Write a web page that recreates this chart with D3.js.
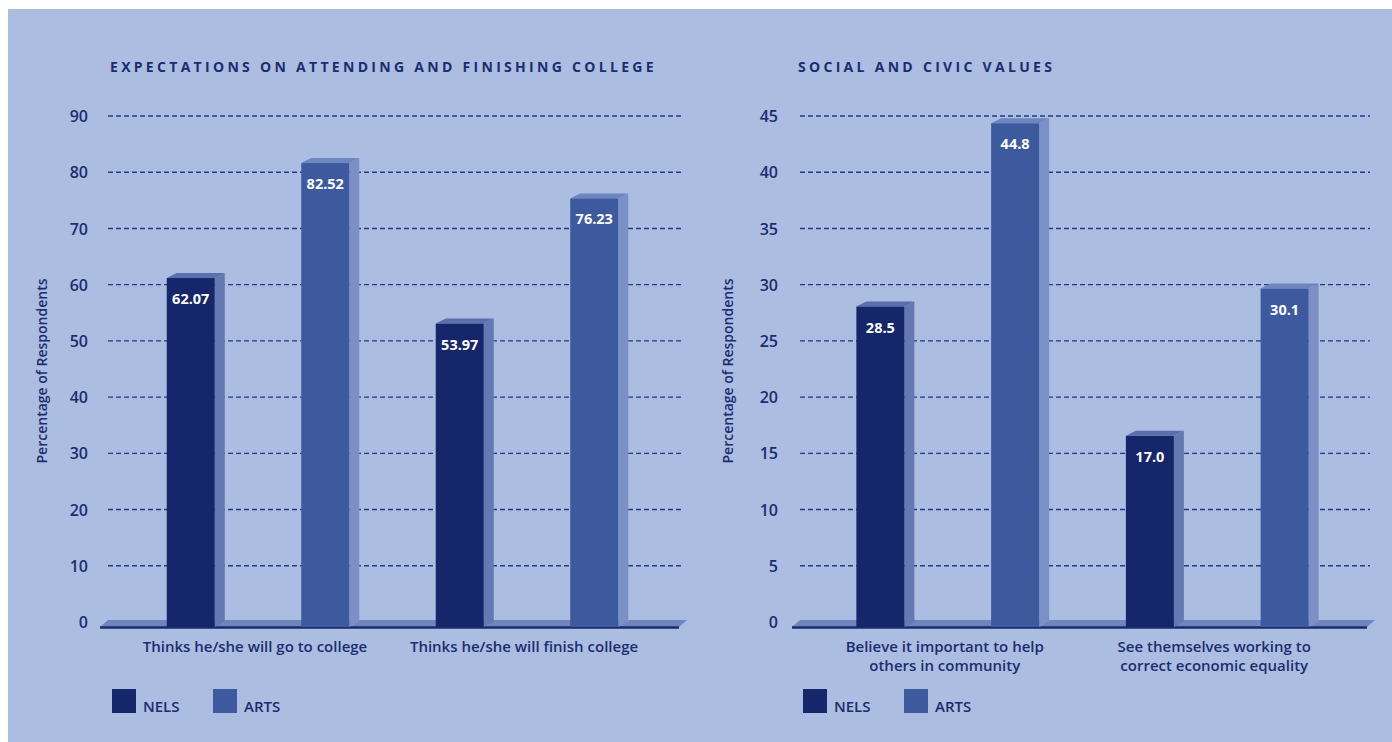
<!DOCTYPE html>
<html><head><meta charset="utf-8">
<script src="https://cdn.jsdelivr.net/npm/d3@7/dist/d3.min.js"></script>
<style>
html,body{margin:0;padding:0;background:#fff;}
svg{display:block;}
text{font-family:"Open Sans","Lato",sans-serif;}
</style></head>
<body>
<script>
// ---------- data ----------
const series = ["NELS", "ARTS"];
const leftTitle = "EXPECTATIONS ON ATTENDING AND FINISHING COLLEGE";
const leftCategories = [["Thinks he/she will go to college"], ["Thinks he/she will finish college"]];
const leftNELS = [62.07, 53.97];
const leftARTS = [82.52, 76.23];
const leftLabels = [["62.07", "82.52"], ["53.97", "76.23"]];
const leftTicks = [0, 10, 20, 30, 40, 50, 60, 70, 80, 90];

const rightTitle = "SOCIAL AND CIVIC VALUES";
const rightCategories = [["Believe it important to help", "others in community"], ["See themselves working to", "correct economic equality"]];
const rightNELS = [28.5, 17.0];
const rightARTS = [44.8, 30.1];
const rightLabels = [["28.5", "44.8"], ["17.0", "30.1"]];
const rightTicks = [0, 5, 10, 15, 20, 25, 30, 35, 40, 45];

const yTitle = "Percentage of Respondents";

// ---------- styles ----------
const W = 1392, H = 742;
const BG = "#abbde0";
const TXT = "#1b2d70";
const GRID = "#22398a";
const colors = {
  NELS: {front: "#15266b", side: "#6578b2", top: "#5a6fab"},
  ARTS: {front: "#3e5a9f", side: "#7b90c6", top: "#6e86bf"}
};
const DX = 10, DY = 5, SHIFT = 5, BW = 48;

const svg = d3.select("body").append("svg").attr("width", W).attr("height", H);
svg.append("rect").attr("x", 8).attr("y", 9).attr("width", W - 8).attr("height", H - 9).attr("fill", BG);

function drawChart(opt) {
  const g = svg.append("g");
  const y = d3.scaleLinear().domain([0, opt.max]).range([622, 116]);
  const x0 = d3.scaleBand().domain(d3.range(opt.cats.length)).range(opt.bandRange).padding(0);
  const x1 = d3.scalePoint().domain(series).range([0, x0.bandwidth()]).padding(0.5);

  // title
  g.append("text").attr("x", opt.titleX).attr("y", 72).text(opt.title)
    .attr("fill", TXT).attr("font-size", 14).attr("font-weight", 700)
    .attr("letter-spacing", 3.3);

  // y-axis title
  g.append("text").attr("transform", `translate(${opt.yTitleX},371) rotate(-90)`)
    .attr("text-anchor", "middle").text(yTitle)
    .attr("fill", TXT).attr("font-size", 14).attr("font-weight", 600);

  // gridlines + tick labels via axis
  const axis = d3.axisLeft(y).tickValues(opt.ticks).tickSize(0).tickPadding(0);
  const ag = g.append("g").attr("transform", `translate(${opt.tickX},0)`).call(axis);
  ag.select(".domain").remove();
  ag.selectAll("text").attr("fill", TXT).attr("font-size", 16).attr("font-weight", 600)
    .attr("font-family", '"Open Sans",sans-serif').attr("dy", "0.35em");

  g.append("g").selectAll("line").data(opt.ticks.filter(d => d > 0)).join("line")
    .attr("x1", opt.gridX[0]).attr("x2", opt.gridX[1])
    .attr("y1", d => y(d)).attr("y2", d => y(d))
    .attr("stroke", GRID).attr("stroke-width", 1.4).attr("stroke-dasharray", "5,3");

  // floor
  const y0 = y(0);
  const gx0 = opt.gridX[0], gx1 = opt.gridX[1];
  g.append("path").attr("d", `M${gx0},${y0 - 2}L${gx1 + 5},${y0 - 2}L${gx1 - 3},${y0 + SHIFT}L${gx0 - 8},${y0 + SHIFT}Z`)
    .attr("fill", "#6f86bd");
  g.append("line").attr("x1", gx0 - 8).attr("x2", gx1 - 3).attr("y1", y0 + SHIFT + 0.5).attr("y2", y0 + SHIFT + 0.5)
    .attr("stroke", "#1a2c70").attr("stroke-width", 2.5);

  // bars
  const rows = [];
  opt.cats.forEach((c, i) => {
    series.forEach((s, j) => rows.push({i, s, v: opt.vals[s][i], label: opt.labels[i][j]}));
  });
  const bars = g.append("g").selectAll("g").data(rows).join("g");
  bars.each(function (d) {
    const b = d3.select(this);
    const x = x0(d.i) + x1(d.s) - BW / 2;
    const top = y(d.v) + SHIFT, bot = y0 + SHIFT;
    const c = colors[d.s];
    b.append("path").attr("d", `M${x + BW},${top}L${x + BW + DX},${top - DY}L${x + BW + DX},${bot - DY}L${x + BW},${bot}Z`).attr("fill", c.side);
    b.append("path").attr("d", `M${x},${top}L${x + DX},${top - DY}L${x + BW + DX},${top - DY}L${x + BW},${top}Z`).attr("fill", c.top);
    b.append("rect").attr("x", x).attr("y", top).attr("width", BW).attr("height", bot - top).attr("fill", c.front);
    b.append("text").attr("x", x + BW / 2).attr("y", top + 26).attr("text-anchor", "middle")
      .attr("fill", "#ffffff").attr("font-size", 14.5).attr("font-weight", 700).text(d.label);
  });

  // category labels
  const cl = g.append("g").selectAll("text").data(opt.cats).join("text")
    .attr("x", (d, i) => x0(i) + x0.bandwidth() / 2 - 3)
    .attr("y", 652).attr("text-anchor", "middle")
    .attr("fill", TXT).attr("font-size", 15).attr("font-weight", 600);
  cl.each(function (d) {
    const t = d3.select(this);
    d.forEach((line, k) => t.append("tspan").attr("x", t.attr("x")).attr("dy", k === 0 ? 0 : 19).text(line));
  });

  // legend
  const lg = g.append("g").selectAll("g").data(series).join("g")
    .attr("transform", (d, i) => `translate(${opt.legendX + i * 101},689)`);
  lg.append("rect").attr("width", 24).attr("height", 24).attr("fill", d => colors[d].front);
  lg.append("text").attr("x", 31).attr("y", 23).text(d => d)
    .attr("fill", TXT).attr("font-size", 15).attr("font-weight", 600);
}

drawChart({
  title: leftTitle, titleX: 110, yTitleX: 47, tickX: 88, max: 90, ticks: leftTicks,
  gridX: [108, 682], bandRange: [123.5, 661.5], cats: leftCategories,
  vals: {NELS: leftNELS, ARTS: leftARTS}, labels: leftLabels, legendX: 112
});
drawChart({
  title: rightTitle, titleX: 798, yTitleX: 733, tickX: 778, max: 45, ticks: rightTicks,
  gridX: [800, 1370], bandRange: [813, 1352], cats: rightCategories,
  vals: {NELS: rightNELS, ARTS: rightARTS}, labels: rightLabels, legendX: 803
});
</script>
</body></html>
